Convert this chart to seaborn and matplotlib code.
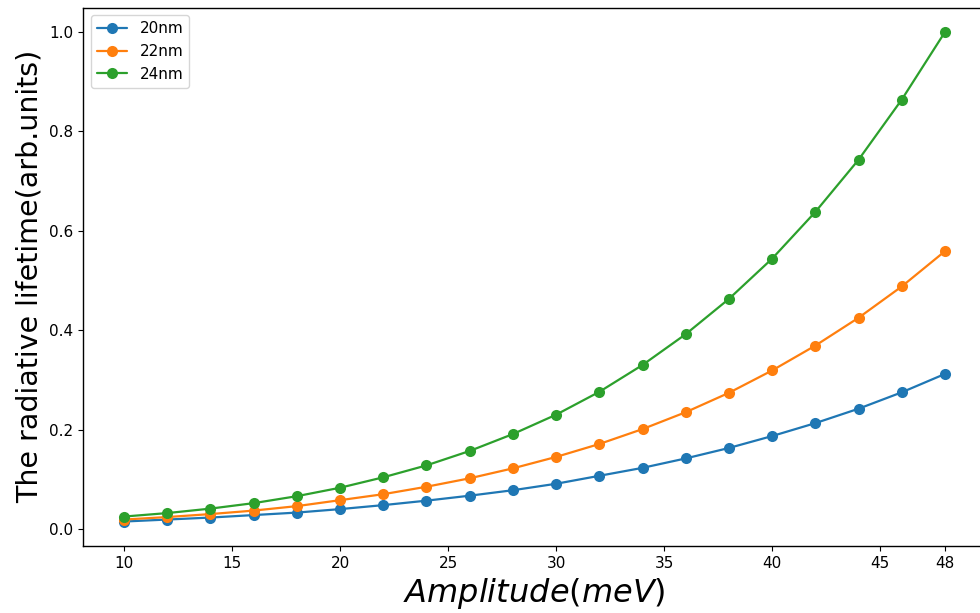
import numpy as np
import pandas as pd
import matplotlib
matplotlib.use("Agg")
import matplotlib.pyplot as plt
import seaborn as sns

# ── data ──
amplitude = [10, 12, 14, 16, 18, 20, 22, 24, 26, 28,
             30, 32, 34, 36, 38, 40, 42, 44, 46, 48]
life_20nm = [0.015, 0.019, 0.023, 0.028, 0.033, 0.040, 0.048, 0.057, 0.067, 0.078,
             0.091, 0.107, 0.123, 0.142, 0.163, 0.187, 0.213, 0.242, 0.275, 0.312]
life_22nm = [0.019, 0.024, 0.030, 0.037, 0.046, 0.058, 0.070, 0.085, 0.102, 0.122,
             0.145, 0.171, 0.201, 0.235, 0.274, 0.319, 0.369, 0.425, 0.488, 0.559]
life_24nm = [0.025, 0.032, 0.041, 0.052, 0.066, 0.083, 0.104, 0.128, 0.157, 0.191,
             0.230, 0.276, 0.330, 0.392, 0.463, 0.544, 0.638, 0.743, 0.864, 1.000]
labels = ["20nm", "22nm", "24nm"]
xticks = [10, 15, 20, 25, 30, 35, 40, 45, 48]

df = pd.DataFrame({
    "amp": amplitude * 3,
    "life": life_20nm + life_22nm + life_24nm,
    "size": [labels[0]] * len(amplitude) + [labels[1]] * len(amplitude) + [labels[2]] * len(amplitude),
})

sns.set_style("ticks")
plt.rcParams["font.family"] = ["DejaVu Sans"]
plt.rcParams["text.color"] = "black"
plt.rcParams["axes.labelcolor"] = "black"
plt.rcParams["xtick.color"] = "black"
plt.rcParams["ytick.color"] = "black"

fig = plt.figure(figsize=(9.8, 6.13), dpi=100)
ax = fig.add_axes([0.0847, 0.1093, 0.9214, 0.8783])

sns.lineplot(data=df, x="amp", y="life", hue="size", palette="tab10",
             marker="o", markersize=8, markeredgewidth=0, linewidth=1.6, ax=ax)

ax.set_xticks(xticks)
ax.set_xticklabels([str(t) for t in xticks])
ax.set_yticks([0.0, 0.2, 0.4, 0.6, 0.8, 1.0])
ax.tick_params(labelsize=11, colors="black")
ax.set_xlabel("$Amplitude(meV)$", fontsize=23, color="black")
ax.set_ylabel("The radiative lifetime(arb.units)", fontsize=20.5, color="black")

handles, lbls = ax.get_legend_handles_labels()
leg = ax.legend(handles, lbls, loc="upper left", fontsize=11)
for t in leg.get_texts():
    t.set_color("black")

for s in ax.spines.values():
    s.set_color("black")
    s.set_linewidth(1.0)

fig.savefig("out.png", dpi=100)
